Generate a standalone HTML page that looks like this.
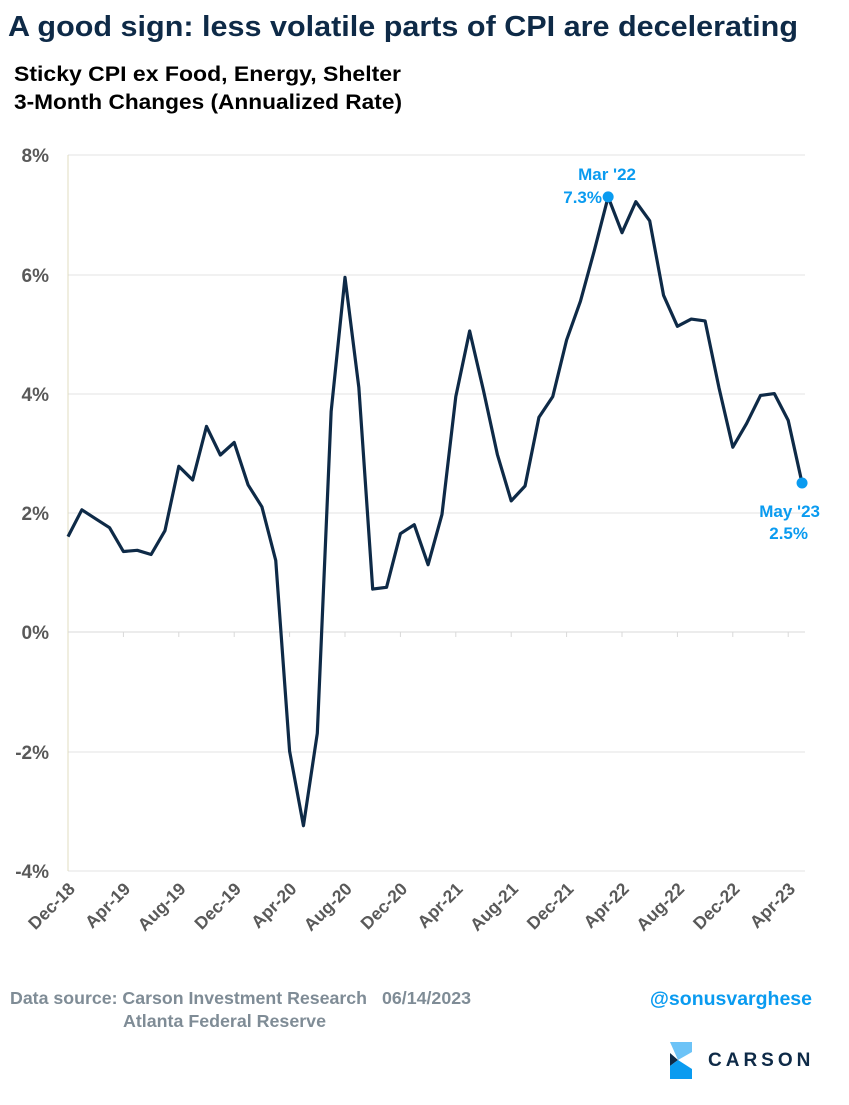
<!DOCTYPE html>
<html><head><meta charset="utf-8"><style>
body{margin:0;background:#fff;width:849px;height:1100px;overflow:hidden;font-family:"Liberation Sans",Arial,sans-serif}
</style></head><body>
<svg width="849" height="1100" xmlns="http://www.w3.org/2000/svg" font-family="Liberation Sans, Arial, sans-serif">
<text x="8" y="36" font-size="29" font-weight="bold" fill="#0e2a47" textLength="790" lengthAdjust="spacingAndGlyphs">A good sign: less volatile parts of CPI are decelerating</text>
<text x="14" y="81" font-size="21" font-weight="bold" fill="#000" textLength="387" lengthAdjust="spacingAndGlyphs">Sticky CPI ex Food, Energy, Shelter</text>
<text x="14" y="109" font-size="21" font-weight="bold" fill="#000" textLength="388" lengthAdjust="spacingAndGlyphs">3-Month Changes (Annualized Rate)</text>
<g stroke="#e3e3e3" stroke-width="1">
<line x1="68" y1="155" x2="805" y2="155"/><line x1="68" y1="275" x2="805" y2="275"/><line x1="68" y1="394" x2="805" y2="394"/><line x1="68" y1="513" x2="805" y2="513"/><line x1="68" y1="752" x2="805" y2="752"/><line x1="68" y1="871" x2="805" y2="871"/>
</g>
<line x1="68" y1="155" x2="68" y2="871" stroke="#e0dcc0" stroke-width="1"/>
<line x1="68" y1="632" x2="805" y2="632" stroke="#d9d9d9" stroke-width="1"/>
<g stroke="#d9d9d9"><line x1="123.4" y1="632" x2="123.4" y2="637"/><line x1="178.8" y1="632" x2="178.8" y2="637"/><line x1="234.2" y1="632" x2="234.2" y2="637"/><line x1="289.6" y1="632" x2="289.6" y2="637"/><line x1="345" y1="632" x2="345" y2="637"/><line x1="400.4" y1="632" x2="400.4" y2="637"/><line x1="455.8" y1="632" x2="455.8" y2="637"/><line x1="511.2" y1="632" x2="511.2" y2="637"/><line x1="566.6" y1="632" x2="566.6" y2="637"/><line x1="622" y1="632" x2="622" y2="637"/><line x1="677.4" y1="632" x2="677.4" y2="637"/><line x1="732.8" y1="632" x2="732.8" y2="637"/><line x1="788.2" y1="632" x2="788.2" y2="637"/></g>
<g font-size="19" font-weight="bold" fill="#595959" text-anchor="end">
<text x="49" y="162">8%</text><text x="49" y="282">6%</text><text x="49" y="401">4%</text><text x="49" y="520">2%</text><text x="49" y="639">0%</text><text x="49" y="759">-2%</text><text x="49" y="878">-4%</text>
</g>
<g font-size="17.5" font-weight="bold" fill="#595959" text-anchor="end">
<text transform="translate(76,890) rotate(-45)">Dec-18</text>
<text transform="translate(131.4,890) rotate(-45)">Apr-19</text>
<text transform="translate(186.8,890) rotate(-45)">Aug-19</text>
<text transform="translate(242.2,890) rotate(-45)">Dec-19</text>
<text transform="translate(297.6,890) rotate(-45)">Apr-20</text>
<text transform="translate(353,890) rotate(-45)">Aug-20</text>
<text transform="translate(408.4,890) rotate(-45)">Dec-20</text>
<text transform="translate(463.8,890) rotate(-45)">Apr-21</text>
<text transform="translate(519.2,890) rotate(-45)">Aug-21</text>
<text transform="translate(574.6,890) rotate(-45)">Dec-21</text>
<text transform="translate(630,890) rotate(-45)">Apr-22</text>
<text transform="translate(685.4,890) rotate(-45)">Aug-22</text>
<text transform="translate(740.8,890) rotate(-45)">Dec-22</text>
<text transform="translate(796.2,890) rotate(-45)">Apr-23</text>
</g>
<polyline fill="none" stroke="#0e2a47" stroke-width="3.2" stroke-linejoin="round" points="68,536.6 81.85,509.8 95.7,518.8 109.55,527.7 123.4,551.5 137.25,550.3 151.1,554.5 164.95,530.7 178.8,466.3 192.65,480 206.5,426.4 220.35,455 234.2,442.5 248.05,484.8 261.9,506.8 275.75,560.5 289.6,751.2 303.45,825.7 317.3,733.3 331.15,411.5 345,277.4 358.85,387.6 372.7,589.1 386.55,587.3 400.4,533.7 414.25,524.7 428.1,564.7 441.95,514.6 455.8,396.6 469.65,331 483.5,390.6 497.35,454.4 511.2,500.9 525.05,486 538.9,417.4 552.75,396.6 566.6,340 580.45,301.2 594.3,250.6 608.15,196.9 622,232.7 635.85,201.7 649.7,220.8 663.55,295.3 677.4,326.3 691.25,319.1 705.1,320.9 718.95,387.6 732.8,447.2 746.65,423.4 760.5,395.4 774.35,393.6 788.2,420.4 802.05,483"/>
<circle cx="608.15" cy="196.9" r="5.5" fill="#0a9bf0"/>
<circle cx="802.05" cy="483" r="5.5" fill="#0a9bf0"/>
<g font-size="17" font-weight="bold" fill="#0a9bf0" text-anchor="end">
<text x="636" y="180">Mar '22</text><text x="602" y="203">7.3%</text>
<text x="820" y="517">May '23</text><text x="808" y="539">2.5%</text>
</g>
<g font-size="17.5" font-weight="bold" fill="#7f8c96">
<text x="10" y="1004" textLength="357" lengthAdjust="spacingAndGlyphs">Data source: Carson Investment Research</text>
<text x="382" y="1004" textLength="89" lengthAdjust="spacingAndGlyphs">06/14/2023</text>
<text x="123" y="1027" textLength="203" lengthAdjust="spacingAndGlyphs">Atlanta Federal Reserve</text>
</g>
<text x="812" y="1005" font-size="19.5" font-weight="bold" fill="#0a9bf0" text-anchor="end">@sonusvarghese</text>
<polygon points="670,1042 692,1042 692,1052 678,1060" fill="#6cc3f7"/>
<polygon points="670,1053 678,1060 670,1066" fill="#0e2a47"/>
<polygon points="670,1066 678,1060 692,1069 692,1079 670,1079" fill="#0a9bf0"/>
<text x="708" y="1066" font-size="19" font-weight="bold" fill="#0e2a47" letter-spacing="4">CARSON</text>
</svg>
</body></html>
